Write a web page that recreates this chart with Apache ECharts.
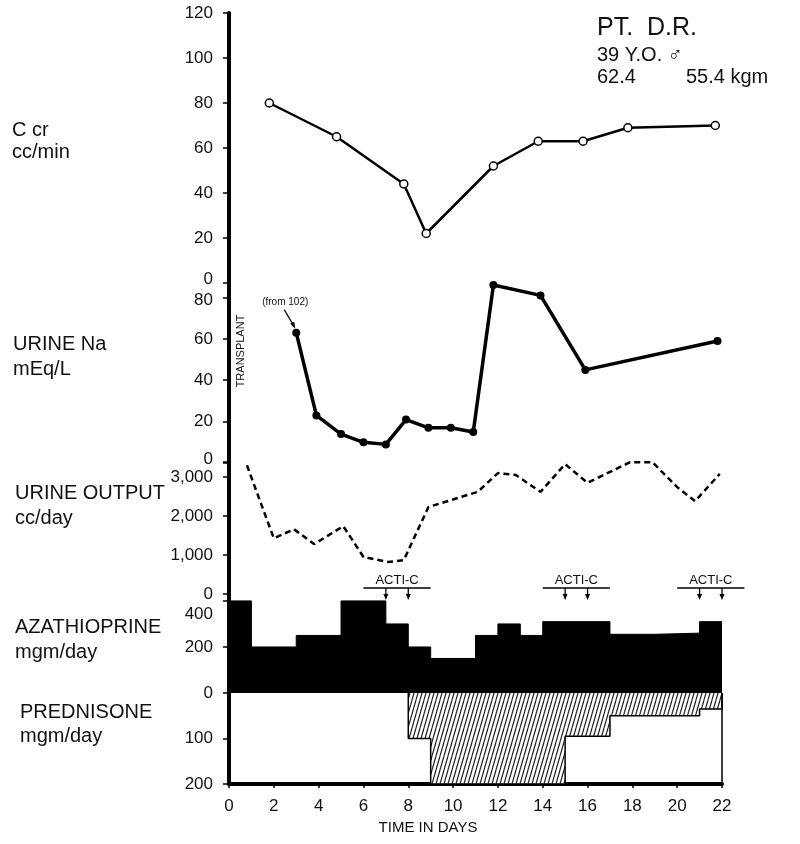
<!DOCTYPE html>
<html><head><meta charset="utf-8">
<script src="https://cdn.jsdelivr.net/npm/echarts@6/dist/echarts.min.js"></script>
<style>html,body{margin:0;padding:0;background:#fff}#c{width:800px;height:844px}</style>
</head><body><div id="c"></div><script>
// ---- data ----
const dayTicks = [0,2,4,6,8,10,12,14,16,18,20,22];
const ccrDays = [1.8,4.8,7.8,8.8,11.8,13.8,15.8,17.8,21.7];
const ccrValues = [80,65,44,22,52,63,63,69,70];
const naDays = [3,3.9,5,6,7,7.9,8.9,9.9,10.9,11.8,13.9,15.9,21.8];
const naValues = [63,23,14,10,9,21,17,17,15,86,81,45,59];
const urineDays = [0.8,2,2.9,3.8,5.1,6,7.1,7.8,8.9,11.1,12,12.8,13.9,15,16,17.9,18.9,20,20.8,21.9];
const urineValues = [3300,1430,1660,1280,1740,950,820,870,2230,2620,3100,3050,2620,3330,2850,3380,3380,2740,2380,3080];
const azaStart = [0,1,3,5,7,8,9,11,12,13,14,17,19,21];
const azaValues = [400,200,250,400,300,200,150,250,300,250,310,255,260,310];
const predStart = [8,9,15,17,21];
const predValues = [100,200,95,50,35];
const endDay = 22;
const actiDoses = [[7,8],[15,16],[21,22]];
const actiLabels = ['ACTI-C','ACTI-C','ACTI-C'];
const naNoteDay = 3, naNoteValue = 63, naNoteText = '(from 102)';

const FF = '"Liberation Sans", Arial, sans-serif';
const chart = echarts.init(document.getElementById('c'), null, {renderer:'canvas'});

const azaData = azaStart.map((d,i)=>[d, azaValues[i]]).concat([[endDay, azaValues[azaValues.length-1]]]);
const predData = [[predStart[0],0]].concat(predStart.map((d,i)=>[d, predValues[i]]))
  .concat([[endDay, predValues[predValues.length-1]],[endDay,0]]);

// hatch pattern
const pc = document.createElement('canvas'); pc.width = 4; pc.height = 14;
const pctx = pc.getContext('2d');
pctx.fillStyle = '#fff'; pctx.fillRect(0,0,4,14);
pctx.strokeStyle = '#222'; pctx.lineWidth = 1.2;
for (let k=-1;k<=1;k++){ pctx.beginPath(); pctx.moveTo(k*4,14); pctx.lineTo(k*4+4,0); pctx.stroke(); }

const grids = [
  {left:229, right:78, top:13, height:270},
  {left:229, right:78, top:283, height:180},
  {left:229, right:78, top:461.4, height:132.6},
  {left:229, right:78, top:594, height:99},
  {left:229, right:78, top:693, height:91}
];
const rich = {
  up: {fontSize:17, fontFamily:FF, color:'#111', padding:[0,0,8,0]},
  dn: {fontSize:17, fontFamily:FF, color:'#111', padding:[6,0,0,0]},
  dn2: {fontSize:17, fontFamily:FF, color:'#111', padding:[26,0,0,0]}
};
function xAx(i, show){
  return {gridIndex:i, type:'value', min:0, max:22, interval:2, show:show,
    axisLine:{show:true, onZero:false, lineStyle:{color:'#000', width:4}},
    axisTick:{show:true, length:4, lineStyle:{color:'#000', width:1.5}},
    axisLabel:{show:true, fontSize:17, color:'#111', fontFamily:FF, margin:14},
    splitLine:{show:false}};
}
function yAx(i, min, max, interval, fmt, inverse){
  return {gridIndex:i, type:'value', min:min, max:max, interval:interval, inverse:!!inverse,
    axisLine:{show:true, lineStyle:{color:'#000', width:4}},
    axisTick:{show:true, length:6, lineStyle:{color:'#000', width:1.5}},
    axisLabel:{fontSize:17, color:'#111', fontFamily:FF, margin:16, formatter:fmt, rich:rich},
    splitLine:{show:false}};
}
const option = {
  animation:false,
  backgroundColor:'#fff',
  grid: grids,
  xAxis: [xAx(0,false), xAx(1,false), xAx(2,false), xAx(3,false), xAx(4,true)],
  yAxis: [
    yAx(0, 0, 120, 20, v=>v===0?'{up|0}':String(v)),
    yAx(1, 0, 87, 20, v=>v===0?'{up|0}':(v===80?'{dn|80}':((v%20===0 && v<=80)?String(v):''))),
    yAx(2, 0, 3400, 1000, v=>(v%1000===0 && v<=3000)?v.toLocaleString('en-US'):''),
    yAx(3, 0, 430, 200, v=>v===400?'{dn2|400}':((v%200===0 && v<=400)?String(v):'')),
    yAx(4, 0, 200, 100, v=>(v>0)?String(v):'', true)
  ],
  series: [
    {type:'line', xAxisIndex:0, yAxisIndex:0, data:ccrDays.map((d,i)=>[d,ccrValues[i]]),
      symbol:'circle', symbolSize:8, lineStyle:{color:'#000', width:2.5},
      itemStyle:{color:'#fff', borderColor:'#000', borderWidth:1.5}, z:3},
    {type:'line', xAxisIndex:1, yAxisIndex:1, data:naDays.map((d,i)=>[d,naValues[i]]),
      symbol:'circle', symbolSize:8, lineStyle:{color:'#000', width:3.5},
      itemStyle:{color:'#000'}, clip:false, z:3},
    {type:'line', xAxisIndex:2, yAxisIndex:2, data:urineDays.map((d,i)=>[d,urineValues[i]]),
      showSymbol:false, lineStyle:{color:'#000', width:2.5, type:[6,4]}, clip:false, z:3},
    {type:'line', xAxisIndex:3, yAxisIndex:3, data:azaData, step:'end', showSymbol:false,
      lineStyle:{color:'#000', width:1}, areaStyle:{color:'#000', opacity:1}, z:2},
    {type:'line', xAxisIndex:4, yAxisIndex:4, data:predData, step:'end', showSymbol:false,
      lineStyle:{color:'#000', width:1.5}, areaStyle:{color:{image:pc, repeat:'repeat'}, opacity:1}, z:2,
      markLine:{silent:true, symbol:'none', label:{show:false},
        lineStyle:{color:'#000', type:'solid', width:1.5}, data:[{xAxis:endDay}]}}
  ]
};
chart.setOption(option);

// ---- annotations ----
const g = [];
function txt(x,y,s,size){
  g.push({type:'text', x:x, y:y, style:{text:s, fill:'#111', font:size+'px '+FF, textVerticalAlign:'middle'}});
}
txt(12,130,'C cr',20); txt(12,152,'cc/min',20);
txt(13,344,'URINE Na',20); txt(13,369,'mEq/L',20);
txt(15,493,'URINE OUTPUT',20); txt(15,518,'cc/day',20);
txt(15,627,'AZATHIOPRINE',20); txt(15,652,'mgm/day',20);
txt(20,712,'PREDNISONE',20); txt(20,736,'mgm/day',20);
txt(597,28,'PT.  D.R.',25);
txt(597,55,'39 Y.O. \u2642',20);
txt(597,77,'62.4',20); txt(686,77,'55.4 kgm',20);
g.push({type:'text', x:428, y:828, style:{text:'TIME IN DAYS', fill:'#111', font:'15px '+FF, textAlign:'center', textVerticalAlign:'middle'}});
g.push({type:'text', x:241, y:351, rotation:Math.PI/2, style:{text:'TRANSPLANT', fill:'#111', font:'11px '+FF, textAlign:'center', textVerticalAlign:'middle'}});

// note on Na first point
const np = chart.convertToPixel({xAxisIndex:1, yAxisIndex:1}, [naNoteDay, naNoteValue]);
g.push({type:'text', x:np[0]-11, y:np[1]-30, style:{text:naNoteText, fill:'#111', font:'10px '+FF, textAlign:'center', textVerticalAlign:'middle'}});
g.push({type:'line', shape:{x1:np[0]-12, y1:np[1]-23, x2:np[0]-2, y2:np[1]-6}, style:{stroke:'#000', lineWidth:1.2}});
g.push({type:'polygon', shape:{points:[[np[0]-1,np[1]-4],[np[0]-6,np[1]-9],[np[0]-2,np[1]-11]]}, style:{fill:'#000'}});

// ACTI-C markers
actiDoses.forEach((pair, k)=>{
  const xs = pair.map(d=>chart.convertToPixel({xAxisIndex:3}, d));
  const xl = chart.convertToPixel({xAxisIndex:3}, pair[0]-1);
  const xr = chart.convertToPixel({xAxisIndex:3}, pair[1]+1);
  const xm = (xs[0]+xs[1])/2;
  g.push({type:'text', x:xm, y:580, style:{text:actiLabels[k], fill:'#111', font:'13px '+FF, textAlign:'center', textVerticalAlign:'middle'}});
  g.push({type:'line', shape:{x1:xl, y1:588, x2:xr, y2:588}, style:{stroke:'#000', lineWidth:1.5}});
  xs.forEach(x=>{
    g.push({type:'line', shape:{x1:x, y1:588, x2:x, y2:596}, style:{stroke:'#000', lineWidth:1.3}});
    g.push({type:'polygon', shape:{points:[[x-2.5,594],[x+2.5,594],[x,600]]}, style:{fill:'#000'}});
  });
});
chart.setOption({graphic:g});
</script></body></html>
